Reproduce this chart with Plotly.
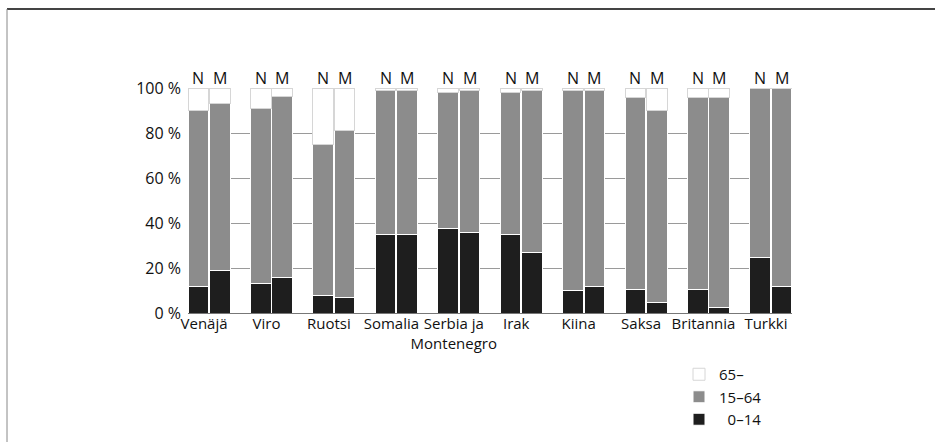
import plotly.graph_objects as go

countries = ["Venäjä", "Viro", "Ruotsi", "Somalia", "Serbia ja<br>Montenegro",
             "Irak", "Kiina", "Saksa", "Britannia", "Turkki"]
sex_labels = ["N", "M"]
age_labels = ["0–14", "15–64", "65–"]

# Share (%) of each age group, women (N) and men (M)
n_0_14 = [11.9, 13.1, 8.0, 35.1, 37.6, 35.1, 9.8, 10.5, 10.5, 24.8]
n_15_64 = [78.3, 78.0, 66.9, 63.9, 60.5, 63.1, 89.2, 85.5, 85.5, 75.2]
n_65 = [9.8, 8.9, 25.1, 1.0, 1.9, 1.8, 1.0, 4.0, 4.0, 0.0]

m_0_14 = [18.9, 15.9, 6.8, 35.1, 36.0, 27.0, 11.7, 4.8, 2.5, 11.6]
m_15_64 = [74.3, 80.4, 74.5, 63.9, 63.0, 72.0, 87.3, 85.2, 93.5, 88.4]
m_65 = [6.8, 3.7, 18.7, 1.0, 1.0, 1.0, 1.0, 10.0, 4.0, 0.0]

OFF = 0.1716
BW = 0.33

xs = []
for i in range(len(countries)):
    xs += [i - OFF, i + OFF]


def interleave(a, b):
    out = []
    for u, v in zip(a, b):
        out += [u, v]
    return out


series = [
    (age_labels[0], interleave(n_0_14, m_0_14), "#1e1e1e", "white"),
    (age_labels[1], interleave(n_15_64, m_15_64), "#8c8c8c", "white"),
    (age_labels[2], interleave(n_65, m_65), "white", "#d6d6d6"),
]

legend_names = {"0–14": "\u20070–14", "15–64": "15–64", "65–": "65–"}

fig = go.Figure()
for name, vals, col, lcol in series:
    fig.add_trace(go.Bar(
        x=xs, y=vals, name=legend_names[name], width=BW,
        marker=dict(color=col, line=dict(color=lcol, width=1)),
    ))

FONT = "Open Sans"

annotations = []
for i in range(len(countries)):
    for k, s in enumerate(sex_labels):
        annotations.append(dict(
            x=i + (-OFF if k == 0 else OFF), y=100, xref="x", yref="y",
            text=s, showarrow=False, yanchor="bottom", yshift=-3,
            font=dict(family=FONT, size=16, color="#111"),
        ))

L, R, T, B = 188, 143, 88, 129
W, H = 935, 442
pw, ph = W - L - R, H - T - B


def px(x):
    return (x - L) / pw


def py(y):
    return (H - B - y) / ph


shapes = [
    dict(type="line", xref="paper", yref="paper", x0=px(7), x1=px(935),
         y0=py(9), y1=py(9), line=dict(color="#444", width=2)),
    dict(type="line", xref="paper", yref="paper", x0=px(7), x1=px(7),
         y0=py(9), y1=py(442), line=dict(color="#888", width=1)),
]

fig.update_layout(
    width=W, height=H,
    margin=dict(l=L, r=R, t=T, b=B, autoexpand=False),
    barmode="stack",
    plot_bgcolor="white", paper_bgcolor="white",
    font=dict(family=FONT, size=15, color="#111"),
    showlegend=True,
    legend=dict(x=px(679), y=py(358), xanchor="left", yanchor="top",
                traceorder="reversed", font=dict(family=FONT, size=15),
                bgcolor="rgba(0,0,0,0)", itemclick=False),
    annotations=annotations,
    shapes=shapes,
    xaxis=dict(range=[-0.337, len(countries) - 1 + 0.337],
               tickvals=list(range(len(countries))), ticktext=countries,
               tickangle=0, automargin=False,
               ticklabelshift=-5, showgrid=False, zeroline=False,
               showline=False, ticks="", tickfont=dict(size=15)),
    yaxis=dict(range=[0, 100], tickvals=[0, 20, 40, 60, 80, 100],
               ticktext=["0 %", "20 %", "40 %", "60 %", "80 %", "100 %"],
               automargin=False,
               showgrid=True, gridcolor="#9a9a9a", gridwidth=1,
               zeroline=True, zerolinecolor="#777", zerolinewidth=1,
               showline=False, ticks="", ticklabelstandoff=6,
               tickfont=dict(size=16)),
)

fig.write_html("out.html",
               config={"displayModeBar": False},
               post_script="document.body.style.margin='0';")
